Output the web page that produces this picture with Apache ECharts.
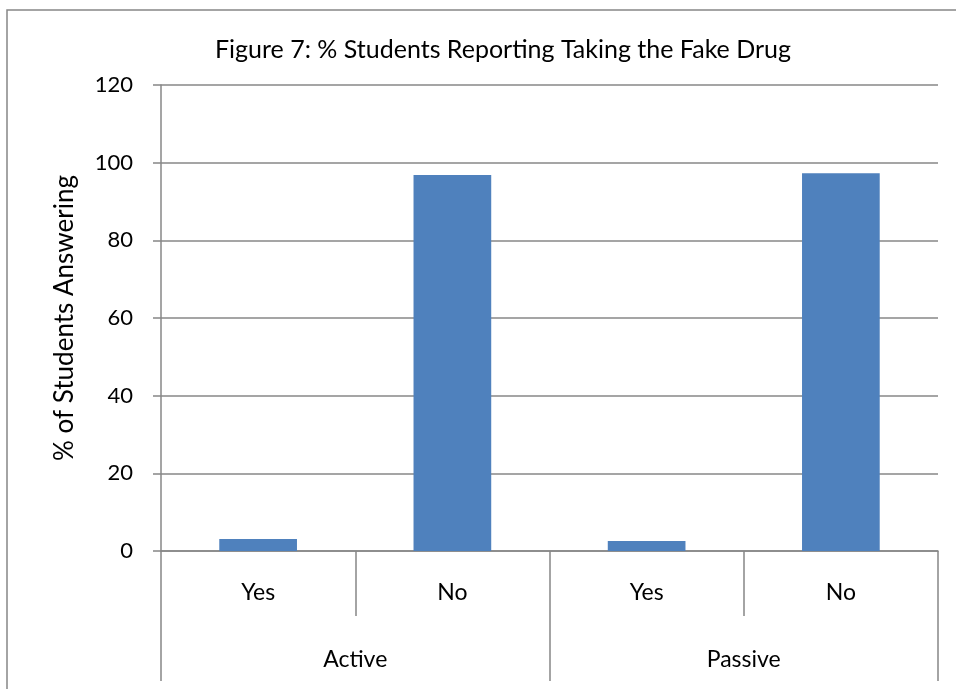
<!DOCTYPE html>
<html>
<head>
<meta charset="utf-8">
<script src="https://cdn.jsdelivr.net/npm/echarts@6/dist/echarts.min.js"></script>
<style>
  html, body { margin: 0; padding: 0; background: #ffffff; }
  #chart { width: 956px; height: 689px; }
</style>
</head>
<body>
<div id="chart"></div>
<script>
// Answers within each group, and the groups themselves
const answers = ['Yes', 'No', 'Yes', 'No'];
const groups = ['Active', 'Passive'];
// % of students giving each answer
const percentAnswering = [3.1, 96.8, 2.6, 97.3];
// Value axis ticks
const yTicks = [0, 20, 40, 60, 80, 100, 120];

const FONT = 'Lato, "Open Sans", sans-serif';
const GRAY = '#878787';

const chart = echarts.init(document.getElementById('chart'), null, { renderer: 'canvas' });

chart.setOption({
  backgroundColor: '#ffffff',
  animation: false,
  textStyle: { fontFamily: FONT, color: '#000' },
  title: {
    text: 'Figure 7: % Students Reporting Taking the Fake Drug',
    left: 498,
    top: 32,
    textAlign: 'center',
    textStyle: { fontFamily: FONT, fontSize: 25, fontWeight: 'normal', color: '#000' }
  },
  graphic: [{
    type: 'rect',
    shape: { x: 7, y: 10, width: 1000, height: 1000 },
    style: { fill: 'none', stroke: GRAY, lineWidth: 1.5 },
    silent: true
  }],
  grid: { left: 161, right: 18, top: 85, bottom: 138 },
  xAxis: [{
    type: 'category',
    data: answers,
    position: 'bottom',
    axisLine: { show: true, lineStyle: { color: GRAY, width: 1.5 } },
    axisTick: { show: true, interval: 0, length: 65, alignWithLabel: false, lineStyle: { color: GRAY, width: 1.5 } },
    axisLabel: { interval: 0, margin: 30, fontFamily: FONT, fontSize: 23, color: '#000' }
  }, {
    type: 'category',
    data: groups,
    position: 'bottom',
    offset: 0,
    axisLine: { show: false },
    axisTick: { show: true, interval: 0, length: 130, alignWithLabel: false, lineStyle: { color: GRAY, width: 1.5 } },
    axisLabel: { interval: 0, margin: 97, fontFamily: FONT, fontSize: 23, color: '#000' }
  }],
  yAxis: {
    type: 'value',
    min: yTicks[0],
    max: yTicks[yTicks.length - 1],
    interval: yTicks[1] - yTicks[0],
    name: '% of Students Answering',
    nameLocation: 'middle',
    nameGap: 83,
    nameRotate: 90,
    nameTextStyle: { fontFamily: FONT, fontSize: 26, color: '#000' },
    axisLine: { show: true, lineStyle: { color: GRAY, width: 1.5 } },
    axisTick: { show: true, inside: false, length: 8, lineStyle: { color: GRAY, width: 1.5 } },
    axisLabel: { margin: 28, fontFamily: FONT, fontSize: 22, color: '#000' },
    splitLine: { show: true, lineStyle: { color: GRAY, width: 1.5 } }
  },
  series: [{
    type: 'bar',
    xAxisIndex: 0,
    data: percentAnswering,
    barWidth: '40%',
    itemStyle: { color: '#4F81BD' }
  }]
});
</script>
</body>
</html>
